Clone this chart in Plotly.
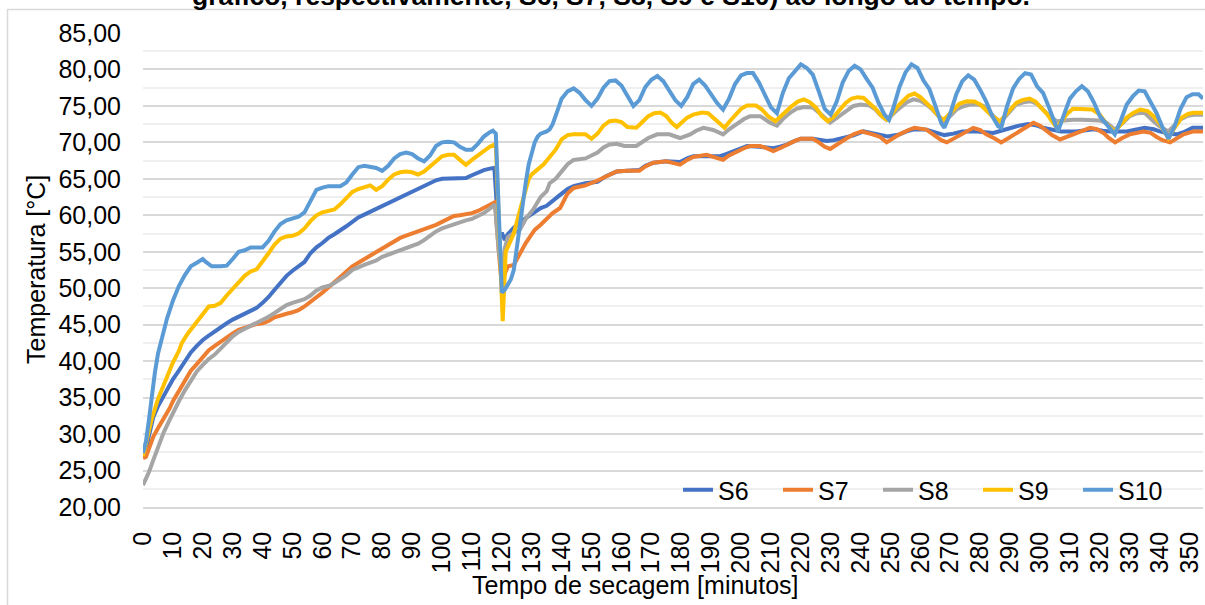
import plotly.graph_objects as go

# Temperature readings (minute, °C) for each sensor
S6 = [(0, 28.5), (1, 27.8), (2, 29.8), (3.5, 32.4), (5, 33.8), (7, 35.3), (9, 36.8), (10, 37.5), (12, 38.7), (14, 40.0),
      (16, 41.2), (18, 42.1), (20, 42.9), (22, 43.5), (24, 44.1), (26, 44.7), (28, 45.2), (30, 45.7), (32, 46.1), (34, 46.5),
      (36, 46.9), (38, 47.3), (40, 48.0), (42, 48.8), (44, 49.8), (46, 50.8), (48, 51.7), (50, 52.4), (52, 53.0), (54, 53.6),
      (56, 54.8), (58, 55.6), (60, 56.2), (62, 56.9), (64, 57.4), (66, 57.9), (68, 58.5), (70, 59.1), (72, 59.7), (74, 60.1),
      (76, 60.5), (78, 60.9), (80, 61.3), (82, 61.6), (84, 62.0), (86, 62.4), (88, 62.8), (90, 63.2), (92, 63.6), (94, 64.0),
      (96, 64.4), (98, 64.8), (100, 65.0), (104, 65.1), (108, 65.1), (110, 65.5), (112, 65.9), (114, 66.2), (116, 66.4), (117.5, 66.5),
      (119, 57.0), (120, 57.6), (121, 56.6), (122, 57.4), (124, 58.3), (126, 59.0), (128, 59.6), (130.5, 60.3), (133, 61.0), (135, 61.3),
      (137, 61.9), (139.5, 62.8), (142, 63.6), (144, 64.0), (148, 64.4), (152, 64.6), (155, 65.4), (158.4, 66.0), (162, 66.1), (166, 66.2),
      (168, 66.8), (170.7, 67.2), (175, 67.4), (179.6, 67.3), (182, 67.8), (184, 68.1), (188.5, 68.1), (193, 68.1), (195, 68.4), (197.4, 68.8),
      (200, 69.3), (202, 69.5), (206, 69.4), (210.8, 69.2), (213, 69.4), (215.3, 69.7), (218, 70.2), (220, 70.5), (224, 70.5), (228.7, 70.2),
      (231, 70.3), (233, 70.5), (237.6, 70.95), (241, 71.5), (244, 71.3), (247, 71.0), (249, 70.8), (251, 70.9), (253, 71.1), (256, 71.6),
      (258, 71.8), (262, 71.75), (265, 71.4), (268, 71.0), (271, 71.2), (274, 71.5), (279, 71.5), (284.4, 71.3), (287, 71.6), (290, 72.0),
      (293, 72.3), (296, 72.5), (299, 72.3), (301, 72.0), (304, 71.7), (307, 71.5), (312, 71.5), (315, 71.7), (318, 71.8), (321, 71.6),
      (323.5, 71.5), (329, 71.5), (332, 71.8), (335, 72.0), (338, 71.8), (340, 71.5), (343, 71.2), (345.7, 71.1), (348, 71.4), (351, 72.0),
      (354.5, 72.0)]

S7 = [(0, 26.7), (1, 26.9), (2, 28.0), (3.5, 29.7), (5, 30.8), (7, 32.1), (9, 33.6), (10, 34.5), (12, 35.9), (14, 37.5),
      (16, 38.7), (18, 39.6), (20, 40.6), (22, 41.5), (24, 42.1), (26, 42.7), (28, 43.2), (30, 43.8), (32, 44.3), (34, 44.6),
      (36, 44.9), (38, 45.1), (40, 45.2), (42, 45.5), (44, 46.0), (46, 46.3), (48, 46.5), (50, 46.7), (52, 47.0), (54, 47.5),
      (56, 48.1), (58, 48.8), (60, 49.4), (62, 50.1), (64, 50.8), (66, 51.6), (68, 52.3), (70, 53.0), (72, 53.5), (74, 54.0),
      (76, 54.4), (78, 54.9), (80, 55.4), (82, 55.9), (84, 56.4), (86, 56.9), (88, 57.2), (90, 57.5), (92, 57.8), (94, 58.0),
      (96, 58.3), (98, 58.7), (100, 59.1), (102, 59.5), (104, 59.9), (106, 60.0), (108, 60.1), (110, 60.3), (112, 60.6), (114, 61.0),
      (116, 61.4), (117.7, 61.8), (119, 55.0), (120, 50.3), (121, 52.0), (122, 53.0), (124, 53.2), (126, 54.8), (128, 56.2), (129.5, 57.1),
      (131, 58.0), (133, 58.7), (135, 59.5), (137, 60.3), (139.5, 61.0), (142, 63.0), (144, 63.75), (148, 64.1), (151.7, 64.7), (155, 65.4),
      (158.4, 66.0), (162, 66.1), (166, 66.1), (168, 66.7), (170.7, 67.2), (175, 67.4), (177.5, 67.1), (179.6, 66.95), (182, 67.6), (184, 68.0),
      (188.5, 68.3), (191, 68.0), (194, 67.6), (196, 68.2), (198.6, 68.8), (201, 69.2), (203, 69.5), (206.4, 69.5), (208.5, 69.2), (210.8, 68.8),
      (213, 69.2), (215.3, 69.7), (218, 70.2), (220, 70.5), (224, 70.5), (226, 70.0), (228, 69.4), (229.8, 69.1), (231.5, 69.5), (233, 70.0),
      (235.5, 70.6), (237.6, 71.1), (240.4, 71.5), (244, 71.1), (246.5, 70.75), (248.7, 70.0), (251, 70.6), (253, 71.1), (256, 71.7), (258, 72.0),
      (262, 71.75), (264.5, 71.0), (267, 70.3), (268.8, 70.0), (271, 70.5), (273.2, 71.0), (275.5, 71.6), (277.7, 72.0), (280, 71.7), (282, 71.1),
      (285, 70.5), (287, 70.0), (289.5, 70.6), (292.2, 71.3), (295, 72.1), (297.8, 72.7), (300, 72.3), (301.7, 71.75), (304, 71.0), (306.7, 70.4),
      (309, 70.8), (312.3, 71.3), (314.5, 71.7), (316.7, 72.0), (319, 71.8), (321.2, 71.3), (323, 70.6), (325.1, 70.0), (327.5, 70.6), (330, 71.1),
      (334.6, 71.5), (337, 71.3), (339, 70.75), (341, 70.3), (343.5, 70.0), (346, 70.6), (348, 71.1), (351.3, 71.5), (354.5, 71.5)]

S8 = [(0, 23.0), (1, 23.8), (2, 24.8), (3.5, 26.5), (5, 28.3), (7, 30.3), (9, 32.0), (10, 32.9), (12, 34.5), (14, 36.0),
      (16, 37.4), (18, 38.6), (20, 39.5), (22, 40.3), (24, 40.9), (26, 41.7), (28, 42.5), (30, 43.4), (32, 44.0), (34, 44.4),
      (36, 44.9), (38, 45.3), (40, 45.7), (42, 46.1), (44, 46.6), (46, 47.1), (48, 47.7), (50, 48.0), (52, 48.2), (54, 48.5),
      (56, 49.0), (58, 49.7), (60, 50.1), (62, 50.3), (64, 50.7), (66, 51.2), (68, 51.8), (70, 52.5), (72, 52.9), (74, 53.2),
      (76, 53.5), (78, 53.8), (80, 54.3), (82, 54.6), (84, 54.9), (86, 55.1), (88, 55.4), (90, 55.7), (92, 56.1), (94, 56.6),
      (96, 57.2), (98, 57.8), (100, 58.2), (102, 58.5), (104, 58.7), (106, 59.0), (108, 59.3), (110, 59.5), (112, 59.9), (114, 60.3),
      (116, 60.9), (117.7, 61.5), (119, 55.0), (120, 52.5), (121, 55.5), (122, 57.0), (124, 57.6), (126, 58.0), (128, 59.5), (130.5, 60.8),
      (133, 62.5), (135, 63.3), (136, 64.4), (138, 65.0), (140.6, 66.3), (142, 67.0), (144, 67.6), (148, 67.8), (150, 68.2), (152, 68.6),
      (154, 69.3), (156, 69.7), (158.4, 69.8), (161, 69.5), (165, 69.5), (167, 70.0), (169, 70.6), (172, 71.1), (176, 71.1), (179.6, 70.6),
      (183, 71.1), (185, 71.6), (187.4, 72.0), (190.7, 71.7), (194, 71.1), (196, 71.8), (198.6, 72.6), (201, 73.2), (203, 73.6), (206.4, 73.6),
      (209.7, 72.7), (212, 72.3), (214, 73.2), (216.4, 74.05), (218.5, 74.6), (221, 74.85), (224, 74.8), (226, 74.2), (227.5, 73.6), (229.8, 72.7),
      (231.5, 73.2), (233, 73.8), (235.5, 74.5), (237.6, 75.0), (240, 75.2), (243, 75.05), (245, 74.5), (246.5, 73.8), (248.7, 73.1), (250.5, 73.8),
      (253, 74.7), (255.5, 75.5), (257.6, 75.9), (260, 75.7), (262, 75.2), (264, 74.5), (266, 73.6), (267.7, 72.9), (270, 73.6), (272, 74.5),
      (274, 74.9), (276.6, 75.2), (279, 75.2), (281, 75.0), (283, 74.2), (285, 73.3), (286.6, 72.7), (289, 73.8), (292, 75.2), (294.5, 75.5),
      (296.7, 75.65), (299, 75.3), (301, 74.5), (303, 73.7), (305.6, 72.9), (308, 73.0), (311, 73.1), (314, 73.1), (317.8, 73.1), (320, 73.0),
      (322.3, 72.7), (325, 71.75), (327.5, 72.6), (330, 73.6), (332.5, 74.0), (335, 74.05), (337.9, 72.9), (340, 72.2), (342.9, 71.5), (345, 72.3),
      (346.8, 73.1), (349, 73.6), (351.3, 73.8), (354.5, 73.8)]

S9 = [(0, 27.0), (1, 28.5), (2, 30.5), (3, 32.2), (5, 34.8), (7, 36.8), (9, 38.8), (10, 39.8), (12, 41.4), (13, 42.5),
      (15, 43.8), (17, 44.8), (19, 45.9), (21, 46.9), (22, 47.5), (24, 47.6), (26, 48.0), (28, 49.0), (30, 50.0), (32, 50.8),
      (34, 51.7), (36, 52.3), (38, 52.6), (40, 53.6), (42, 54.8), (44, 56.0), (46, 56.8), (48, 57.1), (50, 57.2), (52, 57.5),
      (54, 58.2), (56, 59.2), (58, 60.0), (60, 60.4), (62, 60.6), (64, 60.8), (66, 61.5), (68, 62.4), (70, 63.2), (72, 63.6),
      (74, 63.8), (76, 64.1), (78, 63.5), (80, 64.0), (82, 64.9), (84, 65.6), (86, 65.9), (88, 66.0), (90, 65.9), (92, 65.6),
      (94, 66.0), (96, 66.7), (98, 67.4), (100, 68.1), (102, 68.3), (104, 68.3), (106, 67.6), (108, 66.9), (110, 67.6), (112, 68.2),
      (114, 68.8), (116, 69.4), (118, 69.8), (120.3, 45.5), (121.3, 55.0), (123, 56.6), (124, 57.5), (126, 60.6), (128, 63.6), (129, 65.0),
      (130, 65.6), (132, 66.3), (134, 67.0), (136, 68.0), (138, 69.0), (140, 70.4), (142, 71.0), (144, 71.1), (148, 71.1), (150, 70.5),
      (152, 71.2), (154, 72.3), (156, 72.9), (158, 73.0), (160, 72.8), (162, 72.1), (165, 72.0), (167, 72.8), (169, 73.6), (171, 74.0),
      (173, 74.1), (175, 73.6), (177, 72.6), (178.5, 72.1), (180, 72.6), (182, 73.4), (184, 73.8), (187, 74.1), (189, 74.0), (191, 73.3),
      (193, 72.5), (194.5, 72.0), (196, 72.8), (198, 73.8), (200, 74.6), (202, 75.05), (205, 75.05), (207, 74.5), (209, 73.6), (211.5, 72.9),
      (213, 73.5), (215, 74.3), (217, 75.0), (219, 75.6), (221, 75.9), (223, 75.5), (225, 74.8), (227, 73.6), (229, 72.9), (231, 73.5),
      (233, 74.5), (235, 75.4), (237, 76.0), (239, 76.2), (241, 76.1), (243, 75.4), (245, 74.6), (247, 73.6), (248.7, 73.1), (250, 73.6),
      (252, 74.8), (254, 75.6), (256, 76.4), (258, 76.7), (260, 76.2), (262, 75.4), (264, 74.6), (266, 73.6), (267.7, 73.1), (269, 73.6),
      (271, 74.5), (273, 75.3), (275.5, 75.65), (278, 75.6), (280, 75.2), (282, 74.4), (284, 73.6), (286.6, 72.9), (288, 73.6), (290, 74.6),
      (292, 75.4), (294, 75.8), (296.5, 76.0), (298.5, 75.6), (300.5, 74.7), (302.5, 73.8), (304, 72.9), (305.6, 72.0), (307, 72.8), (309, 73.9),
      (311, 74.6), (314, 74.6), (317.5, 74.5), (320, 73.8), (322.3, 72.5), (325, 71.5), (327, 72.5), (329, 73.4), (331, 74.0), (333.5, 74.5),
      (336, 74.3), (338, 73.6), (340, 72.6), (342.9, 70.6), (345, 72.0), (347.4, 73.4), (349.5, 73.9), (351.3, 74.05), (354.5, 74.05)]

S10 = [(0, 27.4), (1, 29.0), (2, 32.0), (3, 35.5), (4, 38.5), (5, 41.0), (7, 44.3), (8, 45.8), (10, 48.3), (12, 50.3),
       (14, 51.8), (16, 53.0), (18, 53.5), (20, 54.0), (21, 53.6), (23, 53.0), (26, 53.0), (28, 53.1), (30, 54.0), (32, 55.0),
       (34, 55.2), (36, 55.6), (40, 55.6), (42, 56.5), (44, 57.8), (46, 58.8), (48, 59.3), (50, 59.5), (52, 59.8), (54, 60.4),
       (56, 62.0), (58, 63.5), (60, 63.8), (62, 64.0), (66, 64.0), (68, 64.5), (70, 65.6), (72, 66.6), (74, 66.8), (76, 66.6),
       (78, 66.5), (80, 66.1), (82, 66.8), (84, 67.8), (86, 68.4), (88, 68.6), (90, 68.4), (92, 67.8), (94, 67.4), (96, 68.2),
       (98, 69.5), (100, 70.0), (102, 70.1), (104, 70.0), (106, 69.4), (108, 69.0), (110, 69.0), (112, 69.8), (114, 70.8), (116, 71.4),
       (117, 71.6), (118, 71.2), (119, 60.0), (120, 49.4), (121, 49.8), (122, 50.5), (123, 51.2), (124, 52.5), (125, 55.7), (126, 59.0),
       (127, 61.7), (128, 64.5), (129, 67.0), (130, 68.6), (131, 70.0), (132, 70.8), (133, 71.2), (135, 71.5), (136, 71.8), (137, 72.5),
       (138, 73.5), (139, 74.8), (140, 76.0), (142, 77.0), (144, 77.4), (146, 76.8), (148, 75.8), (150, 75.0), (152, 76.0), (154, 77.5),
       (156, 78.4), (158, 78.5), (160, 77.8), (162, 76.3), (164, 75.0), (166, 75.8), (168, 77.6), (170, 78.6), (172, 79.1), (174, 78.4),
       (176, 77.0), (178, 75.8), (180, 75.0), (182, 76.2), (184, 78.0), (186, 78.6), (188, 77.8), (190, 76.5), (192, 75.4), (194, 74.5),
       (196, 76.0), (198, 78.0), (200, 79.2), (202, 79.5), (204, 79.5), (206, 78.2), (208, 76.6), (210, 74.8), (212, 74.0), (214, 76.8),
       (216, 78.8), (218, 79.8), (220, 80.7), (222, 80.2), (224, 79.3), (226, 77.0), (228, 74.6), (230, 73.8), (232, 75.6), (234, 78.2),
       (236, 79.8), (238, 80.5), (240, 80.0), (242, 78.7), (244, 77.5), (246, 75.4), (248, 73.8), (249.5, 73.1), (251, 74.8), (253, 77.6),
       (255, 79.6), (257, 80.7), (259, 80.2), (261, 78.5), (263, 77.3), (265, 75.0), (267, 72.6), (268, 72.0), (270, 74.0), (272, 76.6),
       (274, 78.4), (276, 79.2), (278, 78.6), (280, 77.2), (282, 75.6), (284, 73.6), (286, 72.2), (287, 72.0), (289, 75.0), (291, 77.4),
       (293, 78.7), (295, 79.5), (297, 79.3), (299, 77.7), (301, 76.8), (303, 74.8), (305, 72.6), (306, 71.5), (308, 73.8), (310, 76.0),
       (312, 77.0), (314, 77.7), (316, 77.0), (318, 75.5), (320, 73.6), (322, 72.6), (324, 71.4), (325, 71.1), (327, 73.0), (329, 75.2),
       (331, 76.3), (333, 77.1), (335, 77.0), (337, 75.6), (339, 74.0), (341, 72.0), (343, 70.5), (345, 72.2), (347, 74.6), (349, 76.2),
       (351, 76.6), (353, 76.6), (354.5, 76.0)]

SERIES_NAMES = ["S6", "S7", "S8", "S9", "S10"]
SERIES_COLORS = ["#4472C4", "#ED7D31", "#A5A5A5", "#FFC000", "#5B9BD5"]
X_TICKS = list(range(0, 351, 10))
Y_TICKS = list(range(20, 86, 5))

TITLE_TAIL = "gráfico, respectivamente, S6, S7, S8, S9 e S10) ao longo do tempo."
X_TITLE = "Tempo de secagem [minutos]"
Y_TITLE = "Temperatura [°C]"

FONT = "Liberation Sans, Arial, sans-serif"
FS = 25
W, H = 1205, 605
M_L, M_R, M_T, M_B = 143, 2, 33, 98
PW, PH = W - M_L - M_R, H - M_T - M_B


def px_to_paper_x(px):
    return (px - M_L) / PW


def px_to_paper_y(py):
    return (H - M_B - py) / PH


fig = go.Figure()
for name, color, series in zip(SERIES_NAMES, SERIES_COLORS, [S6, S7, S8, S9, S10]):
    fig.add_trace(go.Scatter(
        x=[p[0] for p in series],
        y=[p[1] for p in series],
        mode="lines",
        name=name,
        line=dict(color=color, width=4),
    ))

fig.update_layout(
    width=W, height=H,
    margin=dict(l=M_L, r=M_R, t=M_T, b=M_B),
    paper_bgcolor="white", plot_bgcolor="white",
    separators=",.",
    font=dict(family=FONT, size=FS, color="#000000"),
    showlegend=True,
    legend=dict(
        orientation="h",
        x=px_to_paper_x(678), y=px_to_paper_y(490),
        xanchor="left", yanchor="middle",
        bgcolor="rgba(0,0,0,0)",
        font=dict(family=FONT, size=FS, color="#000000"),
        entrywidth=55,
        itemwidth=30,
    ),
    xaxis=dict(
        range=[0, 354.5],
        tickmode="array", tickvals=X_TICKS, ticktext=[str(v) for v in X_TICKS],
        tickangle=-90,
        showgrid=False, zeroline=False,
        showline=True, linecolor="#D9D9D9", linewidth=1.5,
        ticks="", ticklabelstandoff=13,
        tickfont=dict(family=FONT, size=FS, color="#000000"),
    ),
    yaxis=dict(
        range=[20, 85],
        tickmode="array", tickvals=Y_TICKS,
        tickformat=".2f",
        showgrid=True, gridcolor="#D9D9D9", gridwidth=1.5,
        minor=dict(dtick=2.5, tick0=20, showgrid=True, gridcolor="#EFEFEF", gridwidth=1.5),
        zeroline=False, showline=False,
        ticks="", ticklabelstandoff=21,
        tickfont=dict(family=FONT, size=FS, color="#000000"),
    ),
)

# Axis titles
fig.add_annotation(
    text=X_TITLE, xref="paper", yref="paper",
    x=px_to_paper_x(635), y=px_to_paper_y(585),
    xanchor="center", yanchor="middle", showarrow=False,
    font=dict(family=FONT, size=FS, color="#000000"),
)
fig.add_annotation(
    text=Y_TITLE, xref="paper", yref="paper",
    x=px_to_paper_x(36), y=px_to_paper_y(270),
    xanchor="center", yanchor="middle", textangle=-90, showarrow=False,
    font=dict(family=FONT, size=FS, color="#000000"),
)

# Tail of the caption line above the chart frame
fig.add_annotation(
    text="<b>" + TITLE_TAIL + "</b>", xref="paper", yref="paper",
    x=px_to_paper_x(611), y=px_to_paper_y(13),
    xanchor="center", yanchor="bottom", showarrow=False,
    font=dict(family=FONT, size=26.5, color="#000000"),
)

# Chart frame
fig.add_shape(
    type="rect", xref="paper", yref="paper",
    x0=px_to_paper_x(7.5), x1=px_to_paper_x(1260),
    y0=px_to_paper_y(700), y1=px_to_paper_y(9.5),
    line=dict(color="#D9D9D9", width=1.5), fillcolor="rgba(0,0,0,0)", layer="below",
)

fig.write_html("out.html")
